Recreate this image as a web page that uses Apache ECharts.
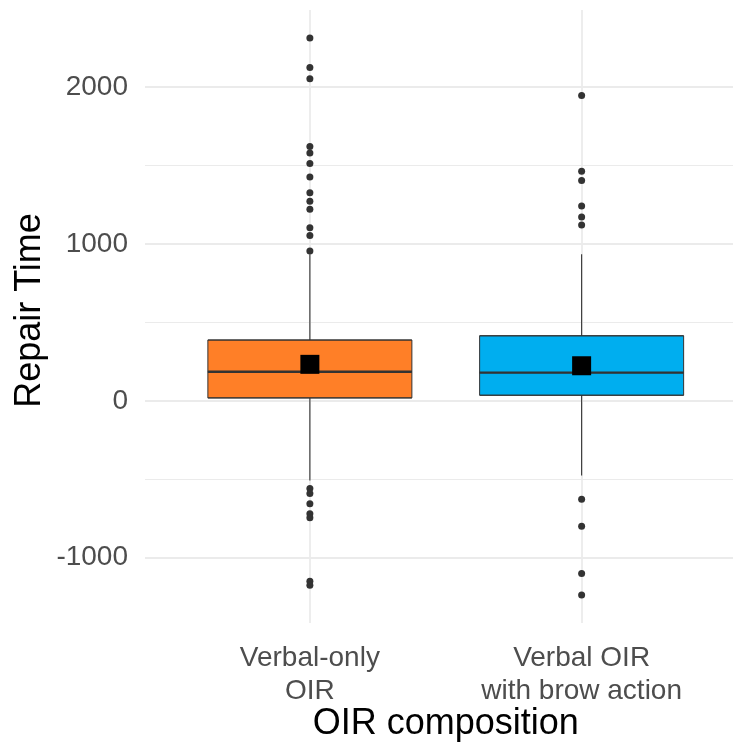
<!DOCTYPE html>
<html>
<head>
<meta charset="utf-8">
<script src="https://cdn.jsdelivr.net/npm/echarts@6/dist/echarts.min.js"></script>
<style>
html,body{margin:0;padding:0;background:#fff;}
#chart{width:733px;height:744px;}
</style>
</head>
<body>
<div id="chart"></div>
<script>
// ---- data ----
const categories = ['Verbal-only\nOIR', 'Verbal OIR\nwith brow action'];
const boxColors = ['#FF7F27', '#00AEEF'];
const whiskerLow = [-507, -475];
const q1 = [19, 36];
const median = [186, 180];
const q3 = [388, 415];
const whiskerHigh = [935, 935];
const means = [233, 224];
const outliersVerbal = [2314, 2125, 2053, 1621, 1581, 1513, 1428, 1327, 1273, 1221, 1104, 1055, 955,
  -559, -591, -655, -720, -745, -1150, -1175];
const outliersBrow = [1947, 1464, 1405, 1242, 1172, 1121, -627, -799, -1100, -1238];
const yMajorTicks = [-1000, 0, 1000, 2000];
const yMinorTicks = [-500, 500, 1500];

const FONT = '"Liberation Sans", Arial, sans-serif';
const yMin = -1416, yMax = 2492;
const gridTop = 10, gridBottom = 121;

const chart = echarts.init(document.getElementById('chart'), null, {renderer: 'canvas'});

// box drawn from Q1 to Q3 only; whiskers drawn as separate lines (no caps, like ggplot)
const boxData = categories.map((c, i) => ({
  value: [q1[i], q1[i], median[i], q3[i], q3[i]],
  itemStyle: {color: boxColors[i], borderColor: '#333333', borderWidth: 1}
}));

const outlierData = [];
outliersVerbal.forEach(v => outlierData.push([0, v]));
outliersBrow.forEach(v => outlierData.push([1, v]));

const gridLines = [];
yMinorTicks.forEach(v => gridLines.push({yAxis: v, lineStyle: {color: '#EBEBEB', width: 1, type: 'solid'}}));
yMajorTicks.forEach(v => gridLines.push({yAxis: v, lineStyle: {color: '#EBEBEB', width: 1.8, type: 'solid'}}));
[1, 2].forEach(v => gridLines.push({xAxis: v, lineStyle: {color: '#EBEBEB', width: 1.8, type: 'solid'}}));

const whiskerSeries = categories.map((c, i) => ({
  type: 'line', xAxisIndex: 1, yAxisIndex: 1, z: 1, silent: true, showSymbol: false, symbol: 'none',
  lineStyle: {color: '#333333', width: 1.1, opacity: 1}, data: [[i, whiskerLow[i]], [i, whiskerHigh[i]]]
}));

const option = {
  animation: false,
  backgroundColor: '#ffffff',
  grid: [
    {left: 145, right: 0, top: gridTop, bottom: gridBottom, outerBoundsMode: 'none', containLabel: false},
    {left: 174, right: 15.5, top: gridTop, bottom: gridBottom, outerBoundsMode: 'none', containLabel: false}
  ],
  xAxis: [
    {gridIndex: 0, type: 'value', min: 0.3927, max: 2.5569, show: false, splitLine: {show: false}},
    {gridIndex: 1, type: 'category', data: categories, boundaryGap: true,
      axisLine: {show: false}, axisTick: {show: false}, splitLine: {show: false},
      axisLabel: {fontFamily: FONT, fontSize: 28, color: '#4D4D4D', lineHeight: 33, margin: 19, align: 'center'},
      name: 'OIR composition', nameLocation: 'middle', nameGap: 83, nameMoveOverlap: false,
      nameTextStyle: {fontFamily: FONT, fontSize: 36, color: '#000'}
    }
  ],
  yAxis: [
    {gridIndex: 0, type: 'value', min: yMin, max: yMax,
      axisLine: {show: false}, axisTick: {show: false}, splitLine: {show: false},
      axisLabel: {fontFamily: FONT, fontSize: 28, color: '#4D4D4D', margin: 17, customValues: yMajorTicks,
        formatter: v => String(v)},
      name: 'Repair Time', nameLocation: 'middle', nameGap: 97, nameRotate: 90, nameMoveOverlap: false,
      nameTextStyle: {fontFamily: FONT, fontSize: 36, color: '#000', padding: [0, 0, 0, 12]}
    },
    {gridIndex: 1, type: 'value', min: yMin, max: yMax, show: false, splitLine: {show: false}}
  ],
  series: [
    {type: 'scatter', xAxisIndex: 0, yAxisIndex: 0, data: [], silent: true, z: 0,
      markLine: {silent: true, z: 0, symbol: ['none', 'none'], label: {show: false}, animation: false, data: gridLines}},
    ...whiskerSeries,
    {type: 'boxplot', xAxisIndex: 1, yAxisIndex: 1, data: boxData, boxWidth: [204, 204], z: 2,
      silent: true, emphasis: {disabled: true}},
    {type: 'scatter', xAxisIndex: 1, yAxisIndex: 1, z: 3, silent: true, symbol: 'rect', symbolSize: [204, 2.4],
      itemStyle: {color: '#333333', opacity: 1}, data: median.map((v, i) => [i, v])},
    {type: 'scatter', xAxisIndex: 1, yAxisIndex: 1, z: 4, silent: true, symbol: 'circle', symbolSize: 7,
      itemStyle: {color: '#333333', opacity: 1}, data: outlierData},
    {type: 'scatter', xAxisIndex: 1, yAxisIndex: 1, z: 5, silent: true, symbol: 'rect', symbolSize: 19,
      itemStyle: {color: '#000000', opacity: 1}, data: means.map((v, i) => [i, v])}
  ]
};
chart.setOption(option);
</script>
</body>
</html>
